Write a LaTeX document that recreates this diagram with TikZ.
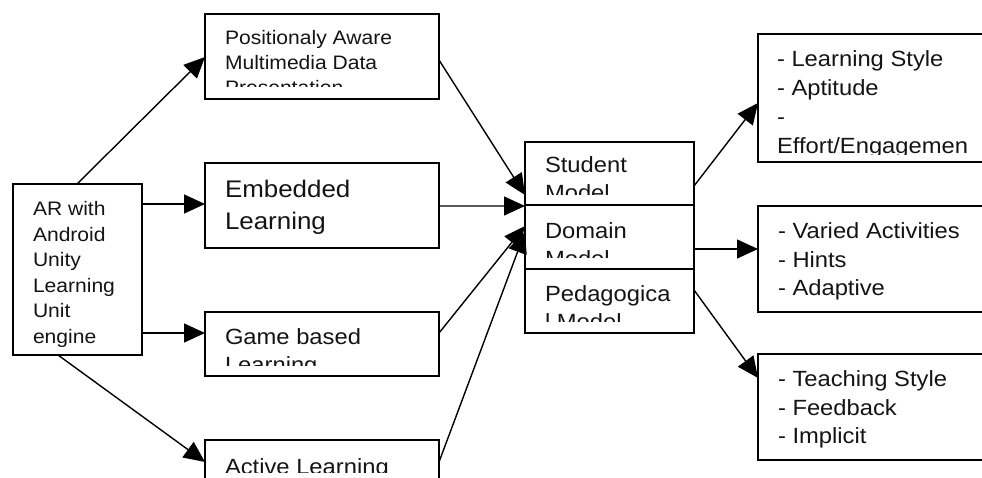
\documentclass[tikz,border=0pt]{standalone}
\usepackage{fontspec}
\setmainfont{Liberation Sans}[FakeStretch=1.08]
\usetikzlibrary{arrows.meta,calc}
\newcommand\mylines[3]{\fontsize{#1bp}{#2bp}\selectfont\vtop{#3}}
\begin{document}
\begin{tikzpicture}[x=1bp,y=-1bp,
  box/.style={draw, line width=1.7bp, inner sep=0pt, outer sep=0pt, anchor=north west},
  arr/.style={line width=1.4bp, -{Triangle[length=21bp,width=19bp]}},
  txt/.style={anchor=base west, inner sep=0pt, outer sep=0pt, text=black!92}]
\useasboundingbox (0,0) rectangle (982,478);
\clip (0,0) rectangle (982,478);

% boxes
\node[box, minimum width=129bp, minimum height=171bp] (ar) at (13,184) {};
\node[box, minimum width=234bp, minimum height=85bp] (pos) at (205,14) {};
\node[box, minimum width=234bp, minimum height=85bp] (emb) at (205,163) {};
\node[box, minimum width=234bp, minimum height=64bp] (game) at (205,312) {};
\node[box, minimum width=234bp, minimum height=70bp] (act) at (205,440) {};
\node[box, minimum width=169bp, minimum height=63bp] (stu) at (525,142) {};
\node[box, minimum width=169bp, minimum height=64bp] (dom) at (525,205) {};
\node[box, minimum width=169bp, minimum height=64bp] (ped) at (525,269) {};
\node[box, minimum width=250bp, minimum height=128bp] (r1) at (758,34) {};
\node[box, minimum width=250bp, minimum height=106bp] (r2) at (758,206) {};
\node[box, minimum width=250bp, minimum height=106bp] (r3) at (758,354) {};

% texts (clipped like the text frames)
\begin{scope}\clip (13,184) rectangle (142,346.5);
\node[txt] (art) at (33,215.7) {\mylines{19.5}{25.5}{\hbox{AR with}\hbox{Android}\hbox{Unity}\hbox{Learning}\hbox{Unit}\hbox{engine}}};
\end{scope}
\begin{scope}\clip (205,14) rectangle (439,87);
\node[txt] (post) at (225,45) {\mylines{19.5}{25}{\hbox{Positionaly Aware}\hbox{Multimedia Data}\hbox{Presentation}}};
\end{scope}
\node[txt] (embt) at (225,198) {\mylines{24}{32}{\hbox{Embedded}\hbox{Learning}}};
\begin{scope}\clip (205,312) rectangle (439,365);
\node[txt] (gamet) at (225,345) {\mylines{22}{28}{\hbox{Game based}\hbox{Learning}}};
\end{scope}
\begin{scope}\clip (205,440) rectangle (439,472);
\node[txt] (actt) at (225,474) {\mylines{22}{28}{\hbox{Active Learning}}};
\end{scope}
\begin{scope}\clip (525,142) rectangle (694,195);
\node[txt] (stut) at (545,173) {\mylines{22}{28}{\hbox{Student}\hbox{Model}}};
\end{scope}
\begin{scope}\clip (525,205) rectangle (694,257.7);
\node[txt] (domt) at (545,239) {\mylines{22}{28}{\hbox{Domain}\hbox{Model}}};
\end{scope}
\begin{scope}\clip (525,269) rectangle (694,322);
\node[txt] (pedt) at (545,301.7) {\mylines{22}{28}{\hbox{Pedagogica}\hbox{l Model}}};
\end{scope}
\begin{scope}\clip (758,34) rectangle (982,154.5);
\node[txt] (r1t) at (777,67) {\mylines{22}{28.7}{\hbox{- Learning Style}\hbox{- Aptitude}\hbox{-}\hbox{Effort/Engagemen}}};
\end{scope}
\node[txt] (r2t) at (778,239) {\mylines{22}{28.5}{\hbox{- Varied Activities}\hbox{- Hints}\hbox{- Adaptive}}};
\node[txt] (r3t) at (778,386.7) {\mylines{22}{28.5}{\hbox{- Teaching Style}\hbox{- Feedback}\hbox{- Implicit}}};

% connectors
\draw[arr] ($(ar.north west)+(64,0)$) -- ($(pos.north west)+(0,43)$);
\draw[arr] ($(ar.north east)+(0,20)$) -- ($(emb.north west)+(0,41)$);
\draw[arr] ($(ar.north east)+(0,149)$) -- ($(game.north west)+(0,21)$);
\draw[arr] ($(ar.south west)+(45,0)$) -- ($(act.north west)+(0,22)$);
\draw[arr] ($(pos.north east)+(0,46)$) -- ($(stu.north west)+(0,53)$);
\draw[arr] ($(emb.north east)+(0,43)$) -- ($(stu.south west)+(0,1)$);
\draw[arr] ($(game.north east)+(0,21)$) -- ($(dom.north west)+(0,21)$);
\draw[arr] ($(act.north east)+(0,22)$) -- ($(dom.north west)+(0,27)$);
\draw[arr] ($(stu.north east)+(0,44)$) -- ($(r1.north west)+(0,69)$);
\draw[arr] ($(dom.north east)+(0,44)$) -- ($(r2.north west)+(0,43)$);
\draw[arr] ($(ped.north east)+(0,21)$) -- ($(r3.north west)+(0,24)$);
\end{tikzpicture}
\end{document}
